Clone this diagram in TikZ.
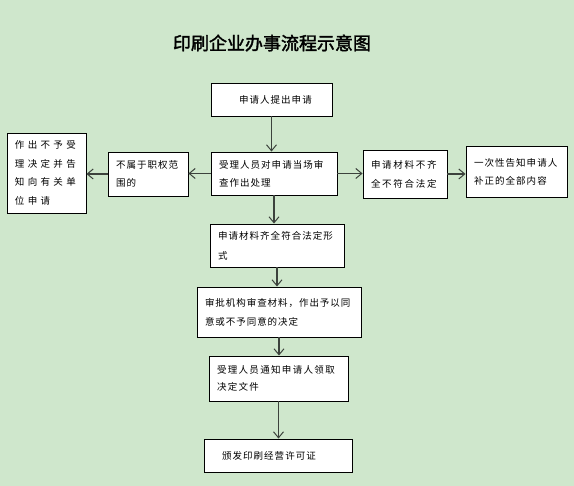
\documentclass[tikz,border=0pt]{standalone}
\usepackage{fontspec}
\setmainfont{Noto Sans CJK SC}
\newfontfamily\cjkbold{Noto Sans CJK SC}[FakeBold=2]
\usetikzlibrary{arrows.meta}
\definecolor{bg}{RGB}{207,231,204}
\definecolor{arrc}{RGB}{60,66,60}
\tikzset{
  box/.style={draw=black, line width=0.9pt, fill=white, inner xsep=8pt, inner ysep=0pt, align=left,
    font=\fontsize{9.5}{18}\selectfont\addfontfeature{LetterSpace=11}},
  wide/.style={font=\fontsize{9.5}{18.5}\selectfont\addfontfeature{LetterSpace=35}},
  arr/.style={draw=arrc, line width=1.4pt, -{Straight Barb[length=6pt,width=10pt,line width=1pt]}}
}
\begin{document}
\begin{tikzpicture}[x=1pt,y=-1pt]
\fill[bg] (0,0) rectangle (574,486);
\useasboundingbox (0,0) rectangle (574,486);
\node (title) at (272,43) {\cjkbold\fontsize{18}{20}\selectfont 印刷企业办事流程示意图};
\node[box, minimum width=121pt, minimum height=33pt, text width=105pt] (b1) at (271.5,99.5) {\hspace*{20pt}申请人提出申请};
\node[box, minimum width=126pt, minimum height=43pt, text width=110pt] (b2) at (274,173.5) {受理人员对申请当场审\\查作出处理};
\node[box, minimum width=80pt, minimum height=44pt, text width=64pt] (left) at (148,174) {不属于职权范\\围的};
\node[box, wide, minimum width=79pt, minimum height=80pt, text width=63pt] (farleft) at (46.5,173) {作出不予受\\理决定并告\\知向有关单\\位申请};
\node[box, minimum width=84pt, minimum height=48pt, text width=68pt, font=\fontsize{9.5}{19}\selectfont\addfontfeature{LetterSpace=18}] (right) at (405,174) {申请材料不齐\\全不符合法定};
\node[box, minimum width=101pt, minimum height=51pt, text width=85pt] (farright) at (516.5,171.5) {一次性告知申请人\\补正的全部内容};
\node[box, minimum width=134pt, minimum height=43pt, text width=118pt, font=\fontsize{9.5}{20}\selectfont\addfontfeature{LetterSpace=11}] (b3) at (277,245.5) {申请材料齐全符合法定形\\式};
\node[box, minimum width=164pt, minimum height=50pt, text width=148pt, font=\fontsize{9.5}{19}\selectfont\addfontfeature{LetterSpace=10}] (b4) at (279,312) {审批机构审查材料，作出予以同\\意或不予同意的决定};
\node[box, minimum width=139pt, minimum height=45pt, text width=123pt, font=\fontsize{9.5}{17}\selectfont\addfontfeature{LetterSpace=14}] (b5) at (278.5,378.5) {受理人员通知申请人领取\\决定文件};
\node[box, minimum width=148pt, minimum height=33pt, text width=132pt] (b6) at (278,455.5) {\hspace*{10pt}颁发印刷经营许可证};
\draw[arr] (b1.south) -- (b1.south |- b2.north);
\draw[arr] (b2.south) -- (b2.south |- b3.north);
\draw[arr] (b3.south) -- (b3.south |- b4.north);
\draw[arr] (b4.south) -- (b4.south |- b5.north);
\draw[arr] (b5.south) -- (b5.south |- b6.north);
\draw[arr] (b2.west) -- (b2.west -| left.east);
\draw[arr] (left.west) -- (left.west -| farleft.east);
\draw[arr] (b2.east) -- (b2.east -| right.west);
\draw[arr] (right.east) -- (right.east -| farright.west);
\end{tikzpicture}
\end{document}
